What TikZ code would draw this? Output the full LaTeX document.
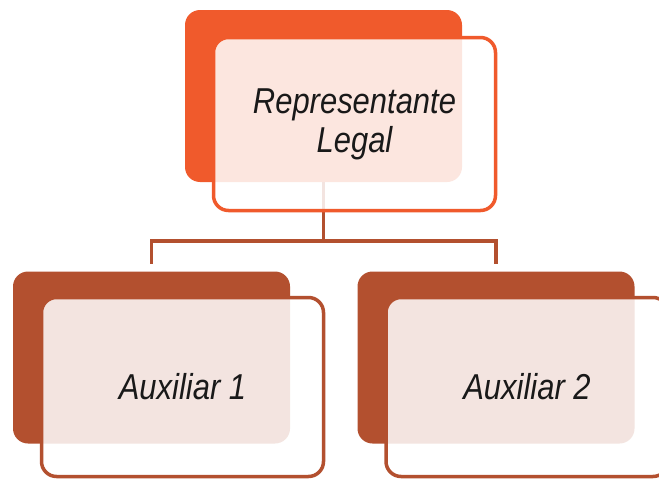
\documentclass[tikz,border=0pt]{standalone}
\usepackage{fontspec}
\setmainfont{Liberation Sans}
\newfontfamily\boxfont[FakeStretch=0.86]{Liberation Sans}
\usepackage{tikz}
\definecolor{legalorange}{HTML}{F05A2C}
\definecolor{auxbrown}{HTML}{B3502F}

\begin{document}
\begin{tikzpicture}[x=1pt,y=-1pt,
    back/.style={rounded corners=15pt,minimum width=277pt,minimum height=172pt,inner sep=0pt},
    front/.style={rounded corners=15pt,minimum width=282pt,minimum height=173pt,inner sep=0pt,
      line width=3.5pt,fill=white,fill opacity=0.85,text opacity=1,text=black!90,align=center,
      font=\boxfont\itshape\fontsize{36}{39}\selectfont},
    link/.style={auxbrown,line width=3.5pt,shorten >=7pt}]
    \clip (0,0) rectangle (659,479);
    %
    \node[back,fill=legalorange] (legalback) at (323.5,96) {};
    \node[back,fill=auxbrown] (auxiback) at (151.5,357.5) {};
    \node[back,fill=auxbrown] (auxiiback) at (496,357.5) {};
    %
    \draw[link] (legalback.south) -- ++(0,59) -| (auxiback.north);
    \draw[link] (legalback.south) -- ++(0,59) -| (auxiiback.north);
    %
    \node[front,draw=legalorange] (legal) at (354.5,124) {Representante\\Legal};
    \node[front,draw=auxbrown,minimum height=179pt] (auxi) at (182.5,387) {Auxiliar 1};
    \node[front,draw=auxbrown,minimum height=179pt] (auxii) at (527,387) {Auxiliar 2};
  \end{tikzpicture}
\end{document}
